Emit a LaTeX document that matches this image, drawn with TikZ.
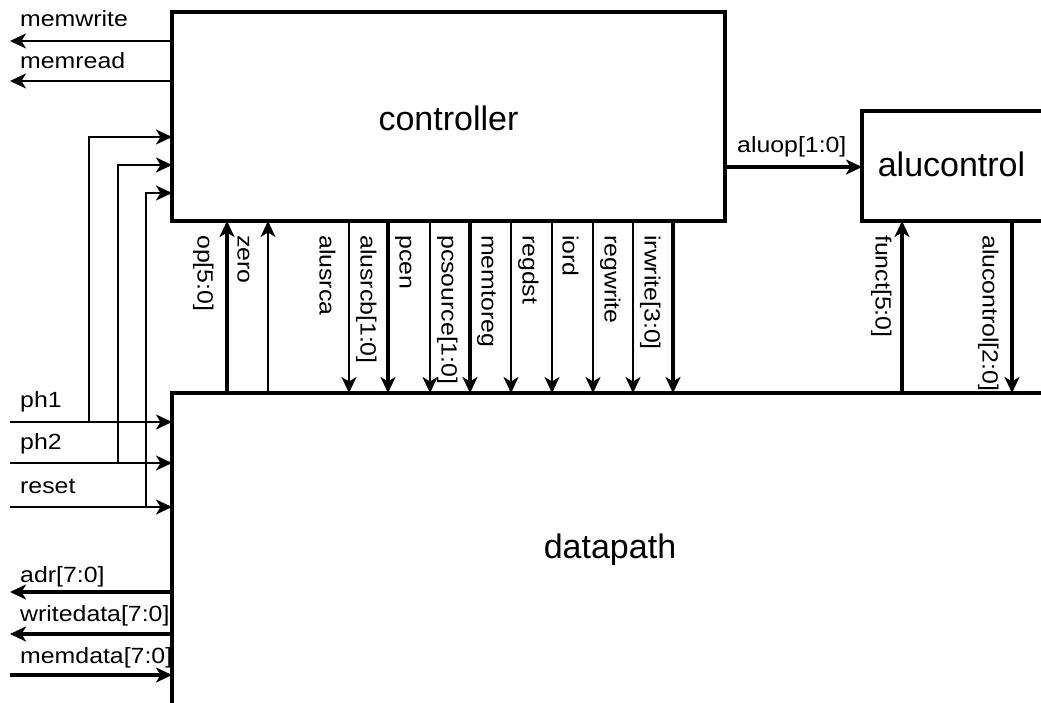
\documentclass[tikz,border=0pt]{standalone}
\usepackage{fontspec}
\setmainfont{Liberation Sans}
\newfontfamily\lblfont[FakeStretch=1.13]{Liberation Sans}
\usetikzlibrary{arrows.meta}
\begin{document}
\begin{tikzpicture}[x=1pt,y=-1pt,
  box/.style={draw, line width=3.6pt, inner sep=0pt, outer sep=0pt},
  thinsig/.style={line width=1.9pt},
  bus/.style={line width=3.6pt},
  tip/.style={-{Stealth[length=16pt,width=15pt,inset=4.5pt]}},
  lbl/.style={font=\lblfont\fontsize{22}{24}\selectfont, inner sep=0pt, anchor=base west},
  vlbl/.style={font=\lblfont\fontsize{22}{24}\selectfont, inner sep=0pt, anchor=west, rotate=-90, text height=16pt, text depth=5pt},
  big/.style={font=\fontsize{34}{40}\selectfont, inner sep=0pt, anchor=base}]
\useasboundingbox (0,0) rectangle (1041,702);
\clip (0,0) rectangle (1041,702);

% boxes
\node[box, minimum width=553pt, minimum height=209pt, anchor=north west] (controller) at (172,12) {};
\node[box, minimum width=220pt, minimum height=110pt, anchor=north west] (alucontrol) at (862,111) {};
\node[box, minimum width=900pt, minimum height=350pt, anchor=north west] (datapath) at (172,393) {};

\node[big] (ctrlL) at (448.5,130) {controller};
\node[big] (acL) at (951.5,176) {alucontrol};
\node[big] (dpL) at (610,558) {datapath};

% memwrite / memread
\coordinate (mwEnd) at (10,41);
\coordinate (mrEnd) at (10,81);
\draw[thinsig,tip] (controller.west |- mwEnd) -- (mwEnd);
\draw[thinsig,tip] (controller.west |- mrEnd) -- (mrEnd);
\node[lbl] (mwL) at (20,26) {memwrite};
\node[lbl] (mrL) at (20,68) {memread};

% ph1, ph2, reset
\coordinate (ph1In) at (10,422);
\coordinate (ph2In) at (10,463);
\coordinate (rstIn) at (10,507);
\coordinate (j1) at (89,422);
\coordinate (j2) at (118,463);
\coordinate (j3) at (146,507);
\draw[thinsig,tip] (ph1In) -- (datapath.west |- ph1In);
\draw[thinsig,tip] (ph2In) -- (datapath.west |- ph2In);
\draw[thinsig,tip] (rstIn) -- (datapath.west |- rstIn);
\draw[thinsig,tip] (j1) |- (controller.west |- 0,137);
\draw[thinsig,tip] (j2) |- (controller.west |- 0,165);
\draw[thinsig,tip] (j3) |- (controller.west |- 0,193);
\node[lbl] (ph1L) at (20,407) {ph1};
\node[lbl] (ph2L) at (20,449) {ph2};
\node[lbl] (rstL) at (20,493) {reset};

% memory buses
\coordinate (adrEnd) at (10,592);
\coordinate (wdEnd) at (10,634);
\coordinate (mdIn) at (10,675);
\draw[bus,tip] (datapath.west |- adrEnd) -- (adrEnd);
\draw[bus,tip] (datapath.west |- wdEnd) -- (wdEnd);
\draw[bus,tip] (mdIn) -- (datapath.west |- mdIn);
\node[lbl] (adrL) at (20,582) {adr[7:0]};
\node[lbl] (wdL) at (20,621) {writedata[7:0]};
\node[lbl] (mdL) at (20,663) {memdata[7:0]};

% aluop
\draw[bus,tip] (controller.east |- 0,167) -- (alucontrol.west |- 0,167);
\node[lbl] (aluopL) at (737,152) {aluop[1:0]};

% datapath -> controller
\draw[bus,tip] (datapath.north -| 227,0) -- (controller.south -| 227,0);
\draw[thinsig,tip] (datapath.north -| 268,0) -- (controller.south -| 268,0);
\node[vlbl] (opL) at (203,235) {op[5:0]};
\node[vlbl] (zeroL) at (243,235) {zero};

% controller -> datapath
\draw[thinsig,tip] (controller.south -| 349,0) -- (datapath.north -| 349,0);
\draw[bus,tip] (controller.south -| 388,0) -- (datapath.north -| 388,0);
\draw[thinsig,tip] (controller.south -| 430,0) -- (datapath.north -| 430,0);
\draw[bus,tip] (controller.south -| 470,0) -- (datapath.north -| 470,0);
\draw[thinsig,tip] (controller.south -| 511,0) -- (datapath.north -| 511,0);
\draw[thinsig,tip] (controller.south -| 552,0) -- (datapath.north -| 552,0);
\draw[thinsig,tip] (controller.south -| 593,0) -- (datapath.north -| 593,0);
\draw[thinsig,tip] (controller.south -| 633,0) -- (datapath.north -| 633,0);
\draw[bus,tip] (controller.south -| 673,0) -- (datapath.north -| 673,0);
\node[vlbl] (asaL) at (325,235) {alusrca};
\node[vlbl] (asbL) at (366,235) {alusrcb[1:0]};
\node[vlbl] (pcenL) at (405,235) {pcen};
\node[vlbl] (pcsL) at (447,235) {pcsource[1:0]};
\node[vlbl] (mtrL) at (487,235) {memtoreg};
\node[vlbl] (rdL) at (528,235) {regdst};
\node[vlbl] (iordL) at (568,235) {iord};
\node[vlbl] (rwL) at (610,235) {regwrite};
\node[vlbl] (irwL) at (650,235) {irwrite[3:0]};

% alucontrol <-> datapath
\draw[bus,tip] (datapath.north -| 902,0) -- (alucontrol.south -| 902,0);
\draw[bus,tip] (alucontrol.south -| 1012,0) -- (datapath.north -| 1012,0);
\node[vlbl] (functL) at (881,235) {funct[5:0]};
\node[vlbl] (acoL) at (988,235) {alucontrol[2:0]};
\end{tikzpicture}
\end{document}
